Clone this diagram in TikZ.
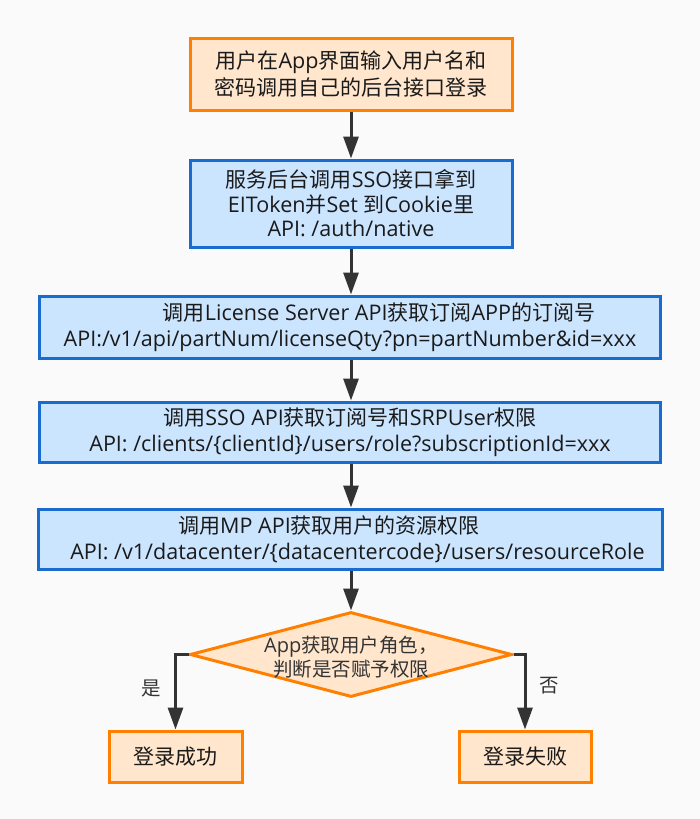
\documentclass[tikz,border=0pt]{standalone}
\usepackage{fontspec}
\setmainfont[Scale=1.025]{Open Sans}
\newfontfamily\zh{Noto Sans CJK SC}
\usetikzlibrary{arrows.meta,shapes.geometric}
\newcommand\Z[1]{{\zh #1}}
\definecolor{ofill}{HTML}{FFE6CC}
\definecolor{oline}{HTML}{FF8000}
\definecolor{bfill}{HTML}{CCE5FF}
\definecolor{bline}{HTML}{1A6BCF}
\definecolor{arrc}{HTML}{333333}
\definecolor{bgc}{HTML}{FAFAFA}
\definecolor{txt}{HTML}{1A1A1A}
\tikzset{
  base/.style={rectangle, line width=3pt, inner sep=0pt, align=center, text=txt,
    font=\fontsize{21}{26}\selectfont},
  obox/.style={base, draw=oline, fill=ofill},
  bbox/.style={base, draw=bline, fill=bfill},
  dia/.style={diamond, draw=oline, fill=ofill, line width=3pt, inner sep=0pt},
  dtext/.style={align=center, text=arrc, inner sep=0pt, font=\fontsize{19.5}{24}\selectfont},
  lbl/.style={text=arrc, inner sep=0pt, font=\fontsize{19.5}{22}\selectfont},
  arr/.style={draw=arrc, line width=3pt, -{Triangle[length=22pt,width=15pt]}}
}
\begin{document}
\begin{tikzpicture}[x=1pt,y=-1pt]
\fill[bgc] (0,0) rectangle (700,819);
\useasboundingbox (0,0) rectangle (700,819);

\node[obox, minimum width=322, minimum height=72, font=\fontsize{21}{27}\selectfont] (n1) at (351,74)
  {\Z{用户在}App\Z{界面输入用户名和}\\\Z{密码调用自己的后台接口登录}};
\node[bbox, minimum width=322, minimum height=87, font=\fontsize{21}{24.5}\selectfont] (n2) at (351,203.5)
  {\Z{服务后台调用}SSO\Z{接口拿到}\\EIToken\Z{并}Set \Z{到}Cookie\Z{里}\\API: /auth/native};
\node[bbox, minimum width=621, minimum height=62] (n3) at (350,327)
  {\hbox to 58pt{}\Z{调用}License Server API\Z{获取订阅}APP\Z{的订阅号}\\API:/v1/api/partNum/licenseQty?pn=partNumber\&id=xxx};
\node[bbox, minimum width=621, minimum height=60] (n4) at (350,432)
  {\Z{调用}SSO API\Z{获取订阅号和}SRPUser\Z{权限}\\API: /clients/\{clientId\}/users/role?subscriptionId=xxx};
\node[bbox, minimum width=624, minimum height=60] (n5) at (350,539)
  {\Z{调用}MP API\Z{获取用户的资源权限}\hbox to 42pt{}\\\hbox to 15pt{}API: /v1/datacenter/\{datacentercode\}/users/resourceRole};

\node[dia, minimum width=322, minimum height=85] (d) at (351,654.5) {};
\node[dtext] (dt) at (351,657) {App\Z{获取用户角色，}\\\Z{判断是否赋予权限}};

\node[obox, minimum width=133, minimum height=51] (ok) at (175.5,756.5) {\Z{登录成功}};
\node[obox, minimum width=132, minimum height=51] (no) at (525,756.5) {\Z{登录失败}};

\node[lbl] (yes) at (151,688) {\Z{是}};
\node[lbl] (fou) at (549,686) {\Z{否}};

\draw[arr] (n1) -- (n2);
\draw[arr] (n2) -- (n2 |- n3.north);
\draw[arr] (n3.south -| n2) -- (n2 |- n4.north);
\draw[arr] (n4.south -| n2) -- (n2 |- n5.north);
\draw[arr] (n5.south -| d) -- (d.north);
\draw[arr] (d.west) -| (ok.north);
\draw[arr] (d.east) -| (no.north);
\end{tikzpicture}
\end{document}
